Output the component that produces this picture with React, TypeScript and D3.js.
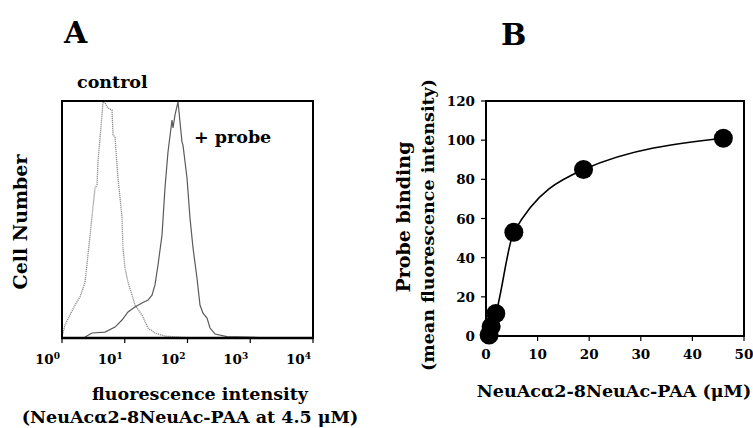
import React from "react";
import * as d3 from "d3";

// Panel A: flow cytometry histograms (log10 fluorescence, % of peak count)
const controlLog = [0, 0.005, 0.048, 0.127, 0.207, 0.287, 0.367, 0.414, 0.478, 0.526, 0.558, 0.574, 0.637, 0.653, 0.685, 0.733, 0.797, 0.813, 0.845, 0.892, 0.956, 0.972, 1.004, 1.052, 1.116, 1.163, 1.275, 1.371, 1.482, 1.641, 1.96];
const controlCount = [43, 1, 5.5, 9.7, 13.9, 17.3, 23.6, 35.0, 51.1, 63.3, 64.6, 74.3, 94.1, 99.6, 99.2, 97.0, 96.2, 85.7, 84.8, 67.5, 51.1, 38.0, 29.5, 23.6, 18.1, 13.9, 9.7, 4.2, 2.1, 0.8, 0.2];

const probeLog = [0.367, 0.478, 0.685, 0.845, 0.956, 1.052, 1.163, 1.275, 1.371, 1.434, 1.482, 1.53, 1.594, 1.641, 1.689, 1.753, 1.769, 1.801, 1.849, 1.912, 1.928, 1.992, 2.04, 2.088, 2.151, 2.199, 2.247, 2.311, 2.359, 2.438, 2.629, 3.15];
const probeCount = [0.4, 2.1, 2.5, 4.6, 7.6, 11.0, 13.1, 14.8, 16.0, 18.1, 22.4, 30.8, 43.5, 63.3, 78.5, 92.0, 88.6, 94.1, 99.6, 82.7, 81.4, 67.5, 50.6, 38.0, 25.3, 13.9, 10.5, 8.4, 4.2, 1.7, 0.6, 0.2];

const decadeTicks = [1, 10, 100, 1000, 10000];
const decadeExp = ["0", "1", "2", "3", "4"];

// Panel B: dose-dependent probe binding
const concUM = [0.6, 1.0, 1.9, 5.4, 18.9, 46];
const binding = [0.5, 4.8, 11.5, 53, 85, 101];
const bXTicks = [0, 10, 20, 30, 40, 50];
const bYTicks = [0, 20, 40, 60, 80, 100, 120];

const FONT = "'DejaVu Serif', serif";

// Panel A scales (left half of the figure)
const ax = d3.scaleLog().domain([1, 10000]).range([62, 313]);
const ay = d3.scaleLinear().domain([0, 100]).range([338, 101]);

// Panel B scales (right half, local coordinates start at x = 376)
const B_OFFSET = 376;
const bx = d3.scaleLinear().domain([0, 50]).range([486 - B_OFFSET, 744 - B_OFFSET]);
const by = d3.scaleLinear().domain([0, 120]).range([336, 101]);

function PanelA() {
  const histLine = d3
    .line<[number, number]>()
    .x((d) => ax(Math.pow(10, d[0])))
    .y((d) => ay(d[1]));
  const controlPts = controlLog.map((l, i) => [l, controlCount[i]] as [number, number]);
  const probePts = probeLog.map((l, i) => [l, probeCount[i]] as [number, number]);
  const [x0, x1] = ax.range();
  const [y1, y0] = ay.range();

  const frame = d3.path();
  frame.moveTo(x0, y0);
  frame.lineTo(x1, y0);
  frame.lineTo(x1, y1);
  frame.lineTo(x0, y1);
  frame.closePath();

  return (
    <svg
      width={376}
      height={428}
      style={{ position: "absolute", left: 0, top: 0 }}
      fontFamily={FONT}
      fontWeight="bold"
    >
      <text x={64} y={43} fontSize={30}>A</text>
      <text x={77} y={88} fontSize={17.5}>control</text>
      <text x={194} y={143} fontSize={17.5}>+ probe</text>
      <text transform="translate(27,222) rotate(-90)" textAnchor="middle" fontSize={19}>
        Cell Number
      </text>

      <path d={histLine(controlPts) || ""} fill="none" stroke="#8c8c8c" strokeWidth={1.3} strokeDasharray="1.2,0.8" />
      <path d={histLine(probePts) || ""} fill="none" stroke="#5a5a5a" strokeWidth={1.2} />

      <path d={frame.toString()} fill="none" stroke="#000" strokeWidth={2} />
      <polyline
        points={`${x0 - 1},${y1} ${x1 + 1},${y1}`}
        fill="none"
        stroke="#000"
        strokeWidth={2.6}
      />
      {decadeTicks.map((t, i) => (
        <g key={t}>
          <polyline points={`${ax(t)},${y1} ${ax(t)},${y1 + 5}`} fill="none" stroke="#000" strokeWidth={1.2} />
          <text x={ax(t) - 2} y={364} fontSize={13.5} textAnchor="end">
            10<tspan dy={-5} fontSize={9}>{decadeExp[i]}</tspan>
          </text>
        </g>
      ))}
      <text x={200} y={400} fontSize={17.5} textAnchor="middle">fluorescence intensity</text>
      <text x={190} y={423} fontSize={17.5} textAnchor="middle">(NeuAcα2-8NeuAc-PAA at 4.5 μM)</text>
    </svg>
  );
}

function PanelB() {
  const fitLine = d3
    .line<number>()
    .x((_, i) => bx(concUM[i]))
    .y((d) => by(d))
    .curve(d3.curveMonotoneX);
  const left = bx(0);
  const bottom = by(0);

  return (
    <svg
      width={753 - B_OFFSET}
      height={428}
      style={{ position: "absolute", left: B_OFFSET, top: 0 }}
      fontFamily={FONT}
      fontWeight="bold"
    >
      <text x={501 - B_OFFSET} y={45} fontSize={30}>B</text>
      <text transform={`translate(${410 - B_OFFSET},217) rotate(-90)`} textAnchor="middle" fontSize={19}>
        Probe binding
      </text>
      <text transform={`translate(${434 - B_OFFSET},225) rotate(-90)`} textAnchor="middle" fontSize={17.5}>
        (mean fluorescence intensity)
      </text>

      <rect x={left} y={by(120)} width={bx(50) - left} height={bottom - by(120)} fill="none" stroke="#000" strokeWidth={2} />
      {bYTicks.map((t) => (
        <g key={t}>
          <line x1={left - 5} x2={left} y1={by(t)} y2={by(t)} stroke="#000" strokeWidth={1.2} />
          <text x={left - 11} y={by(t) + 5} fontSize={13.5} textAnchor="end">{t}</text>
        </g>
      ))}
      {bXTicks.map((t) => (
        <g key={t}>
          <line x1={bx(t)} x2={bx(t)} y1={bottom} y2={bottom + 5} stroke="#000" strokeWidth={1.2} />
          <text x={bx(t)} y={359} fontSize={13.5} textAnchor="middle">{t}</text>
        </g>
      ))}
      <path d={fitLine(binding) || ""} fill="none" stroke="#000" strokeWidth={1.6} />
      {binding.map((v, i) => (
        <circle key={i} cx={bx(concUM[i])} cy={by(v)} r={9.5} fill="#000" />
      ))}
      <text x={614 - B_OFFSET} y={397} fontSize={17.5} textAnchor="middle">NeuAcα2-8NeuAc-PAA (μM)</text>
    </svg>
  );
}

export default function App() {
  return (
    <div style={{ position: "absolute", left: 0, top: 0, width: 753, height: 428, background: "#fff" }}>
      <PanelA />
      <PanelB />
    </div>
  );
}
